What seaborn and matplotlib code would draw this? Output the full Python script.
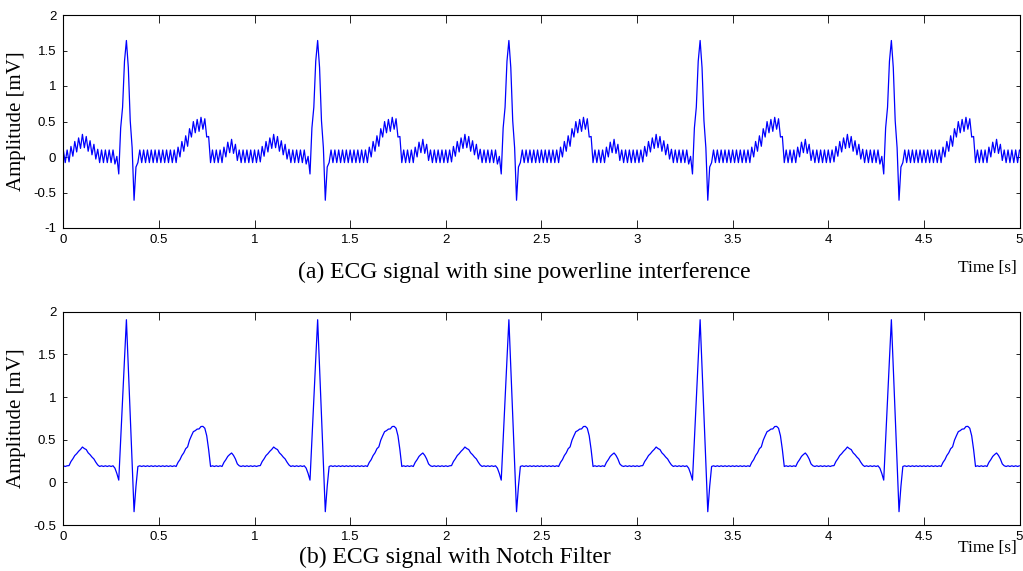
import numpy as np
import pandas as pd
import matplotlib
matplotlib.use("Agg")
import matplotlib.pyplot as plt
import seaborn as sns

# ---------------- data ----------------
sample_step_s = 0.01          # spacing between samples
n_beats = 5

# one clean heart beat (1 s, 100 samples) as seen after the notch filter [mV]
beat_clean = [
    0.19, 0.19, 0.19, 0.20, 0.24, 0.28, 0.31, 0.34, 0.36, 0.39,   # 0.00-0.09
    0.41, 0.40, 0.38, 0.35, 0.32, 0.30, 0.27, 0.24, 0.20, 0.19,   # 0.10-0.19
    0.19, 0.19, 0.19, 0.19, 0.19, 0.19, 0.19, 0.17, 0.10, 0.03,   # 0.20-0.29
    0.50, 0.97, 1.44, 1.91, 1.35, 0.78, 0.22, -0.34, -0.05, 0.19, # 0.30-0.39
    0.19, 0.19, 0.19, 0.19, 0.19, 0.19, 0.19, 0.19, 0.19, 0.19,   # 0.40-0.49
    0.19, 0.19, 0.19, 0.19, 0.19, 0.19, 0.19, 0.19, 0.19, 0.19,   # 0.50-0.59
    0.23, 0.27, 0.31, 0.35, 0.39, 0.42, 0.49, 0.55, 0.59, 0.61,   # 0.60-0.69
    0.62, 0.63, 0.65, 0.66, 0.63, 0.55, 0.38, 0.19, 0.19, 0.19,   # 0.70-0.79
    0.19, 0.19, 0.19, 0.19, 0.23, 0.27, 0.30, 0.33, 0.34, 0.32,   # 0.80-0.89
    0.27, 0.22, 0.19, 0.19, 0.19, 0.19, 0.19, 0.19, 0.19, 0.19,   # 0.90-0.99
]

# baseline shift of the noisy recording relative to the filtered one [mV]
noisy_offset = -0.18
# one cycle of the 50 Hz powerline sine as sampled (2 samples per cycle) [mV]
powerline_cycle = [0.089, -0.089]
# tiny residual left by the notch filter [mV]
residual_cycle = [0.004, -0.004]

x_ticks = [0, 0.5, 1, 1.5, 2, 2.5, 3, 3.5, 4, 4.5, 5]
x_tick_labels = ["0", "0.5", "1", "1.5", "2", "2.5", "3", "3.5", "4", "4.5", "5"]
ya_ticks = [-1, -0.5, 0, 0.5, 1, 1.5, 2]
ya_tick_labels = ["-1", "-0.5", "0", "0.5", "1", "1.5", "2"]
yb_ticks = [-0.5, 0, 0.5, 1, 1.5, 2]
yb_tick_labels = ["-0.5", "0", "0.5", "1", "1.5", "2"]

caption_a = "(a) ECG signal with sine powerline interference"
caption_b = "(b) ECG signal with Notch Filter"
y_label = "Amplitude [mV]"
x_label = "Time [s]"

# ---------------- assemble series ----------------
clean = np.array(beat_clean * n_beats + [beat_clean[0]])
n = len(clean)
t = np.arange(n) * sample_step_s
power = np.resize(np.array(powerline_cycle), n)
resid = np.resize(np.array(residual_cycle), n)
noisy = clean + noisy_offset + power
filtered = clean + resid

df_a = pd.DataFrame({"t": t, "v": noisy})
df_b = pd.DataFrame({"t": t, "v": filtered})

# ---------------- style ----------------
sns.set_theme(style="ticks")
plt.rcParams["font.family"] = ["Liberation Sans", "DejaVu Sans"]
plt.rcParams["text.color"] = "black"
plt.rcParams["axes.labelcolor"] = "black"
serif = ["Liberation Serif", "DejaVu Serif"]

W, H = 1023, 571
fig = plt.figure(figsize=(W / 100, H / 100), dpi=100)

def px_axes(x0, y0, x1, y1):
    return fig.add_axes([x0 / W, 1 - y1 / H, (x1 - x0) / W, (y1 - y0) / H])

ax_a = px_axes(63.3, 15, 1019.5, 228)
ax_b = px_axes(63.3, 311.7, 1019.5, 525)

def style(ax, yticks, ylabels, ylim):
    ax.set_xlim(0, 5)
    ax.set_ylim(*ylim)
    ax.set_xticks(x_ticks)
    ax.set_xticklabels(x_tick_labels)
    ax.set_yticks(yticks)
    ax.set_yticklabels(ylabels)
    ax.tick_params(axis="both", direction="in", top=True, right=True,
                   labelsize=9.5, colors="black")
    ax.tick_params(axis="x", length=5.5, width=0.6, pad=4)
    ax.tick_params(axis="y", length=3, width=0.6, pad=5)
    for s in ax.spines.values():
        s.set_visible(True)
        s.set_color("black")
        s.set_linewidth(0.8)
    ax.set_xlabel("")
    ax.set_ylabel(y_label, family=serif, fontsize=15, color="black")
    ax.yaxis.set_label_coords(-0.039, 0.5)

sns.lineplot(data=df_a, x="t", y="v", ax=ax_a, color="#0000ff",
             linewidth=0.9, estimator=None, sort=False)
style(ax_a, ya_ticks, ya_tick_labels, (-1, 2))

sns.lineplot(data=df_b, x="t", y="v", ax=ax_b, color="#0000ff",
             linewidth=0.9, estimator=None, sort=False)
style(ax_b, yb_ticks, yb_tick_labels, (-0.5, 2))

fig.text(298 / W, 1 - 272 / H, caption_a, family=serif, fontsize=17,
         ha="left", va="center", color="black")
fig.text(1017 / W, 1 - 268 / H, x_label, family=serif, fontsize=12.5,
         ha="right", va="center", color="black")
fig.text(299 / W, 1 - 557 / H, caption_b, family=serif, fontsize=17,
         ha="left", va="center", color="black")
fig.text(1017 / W, 1 - 548 / H, x_label, family=serif, fontsize=12.5,
         ha="right", va="center", color="black")

fig.savefig("out.png", dpi=100)
